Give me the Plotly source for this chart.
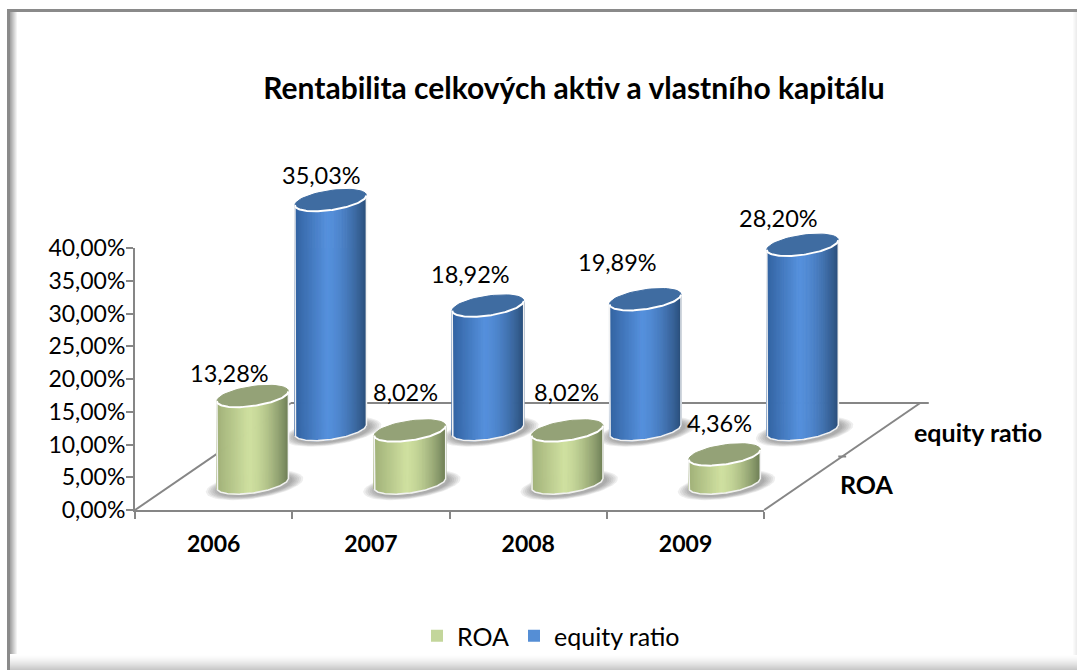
import math
import plotly.graph_objects as go

years = ["2006", "2007", "2008", "2009"]
roa = [13.28, 8.02, 8.02, 4.36]
equity_ratio = [35.03, 18.92, 19.89, 28.20]
title_text = "Rentabilita celkových aktiv a vlastního kapitálu"

W, H = 1077, 670
PX_X = 157.3          # px per category
PX_Y = 6.55           # px per percent
X0_PX, Y0_PX = 135, 510
DEPTH_X = 156 / PX_X  # floor depth vector, in data units
DEPTH_Y = 107 / PX_Y
RAD_X = 32 / PX_X     # cylinder radius along category axis
RAD_D = 16 / 156      # cylinder radius along depth axis
FONT = "Lato"
AX = "#868686"
INK = "#000000"


def lerp(a, b, s):
    return tuple(a[i] + (b[i] - a[i]) * s for i in range(3))


def shade(stops, s):
    c = lerp(stops[0], stops[1], s / 0.45) if s < 0.45 else lerp(stops[1], stops[2], ((s - 0.45) / 0.55) ** 1.6)
    return "rgb(%d,%d,%d)" % tuple(round(v) for v in c)


def pt(cx, cy, t, k=1.0):
    return (cx + k * (RAD_X * math.cos(t) + RAD_D * DEPTH_X * math.sin(t)),
            cy + k * RAD_D * DEPTH_Y * math.sin(t))


T0 = math.atan2(RAD_D * DEPTH_X, RAD_X)
series = [
    dict(name="equity ratio", vals=equity_ratio, depth=0.75, swatch="#558ED5",
         stops=[(50, 98, 160), (85, 144, 220), (44, 80, 124)], top="#3F6CA1",
         lab=[(-9, 25), (-17, 32), (-28, 37), (-24, 27)], rank=2),
    dict(name="ROA", vals=roa, depth=0.25, swatch="#C3D69B",
         stops=[(160, 176, 120), (207, 224, 160), (112, 128, 88)], top="#94A277",
         lab=[(-23, 23), (-4, 39), (-1, 39), (-5, 32)], rank=1),
]

fig = go.Figure()

# real bars on the visible axes: they carry the legend and sit inside the cylinder bodies
for s in series:
    fig.add_trace(go.Bar(
        x=[i + 0.5 + s["depth"] * DEPTH_X for i in range(len(years))], y=s["vals"],
        base=[s["depth"] * DEPTH_Y] * len(years), width=0.3, name=s["name"],
        marker=dict(color=s["swatch"], line_width=0), legendrank=s["rank"],
        hoverinfo="skip", cliponaxis=False))


def scatter(**kw):
    fig.add_trace(go.Scatter(mode="lines", showlegend=False, hoverinfo="skip", xaxis="x2", yaxis="y2", **kw))


def line(xs, ys, color=AX, width=2):
    scatter(x=xs, y=ys, line=dict(color=color, width=width))


# floor
n = len(years)
line([0, DEPTH_X], [0, DEPTH_Y])
line([DEPTH_X, n + DEPTH_X * 1.055], [DEPTH_Y, DEPTH_Y])
line([n, n + DEPTH_X], [0, DEPTH_Y])
line([n + 0.5 * DEPTH_X - 0.025, n + 0.5 * DEPTH_X + 0.025], [0.5 * DEPTH_Y] * 2)

# cylinders, back row first
ARC = [T0 + math.pi + math.pi * j / 70 for j in range(71)]
RING = [2 * math.pi * j / 60 for j in range(61)]
for s in series:
    for i, v in enumerate(s["vals"]):
        cx = i + 0.5 + s["depth"] * DEPTH_X
        base = s["depth"] * DEPTH_Y
        top = base + v
        # soft floor shadow
        for k in (1.36, 1.3, 1.24, 1.18, 1.12, 1.06):
            pts = [pt(cx + 2 / PX_X, base - 2 / PX_Y, t, k) for t in RING]
            scatter(x=[p[0] for p in pts], y=[p[1] for p in pts], fill="toself",
                    fillcolor="rgba(70,70,70,0.09)", line_width=0)
        # body: vertical strips following the front arc
        lo = pt(cx, base, ARC[0])[0]
        hi = pt(cx, base, ARC[-1])[0]
        for a, b in zip(ARC[:-1], ARC[1:]):
            pa, pb = pt(cx, base, a), pt(cx, base, b)
            col = shade(s["stops"], ((pa[0] + pb[0]) / 2 - lo) / (hi - lo))
            scatter(x=[pa[0], pb[0], pb[0], pa[0], pa[0]],
                    y=[pa[1], pb[1], pb[1] + v, pa[1] + v, pa[1]],
                    fill="toself", fillcolor=col, line=dict(color=col, width=1))
        # pale outline of sides + bottom
        low = [pt(cx, base, t) for t in ARC]
        xs = [low[0][0]] + [p[0] for p in low] + [low[-1][0]]
        ys = [low[0][1] + v] + [p[1] for p in low] + [low[-1][1] + v]
        line(xs, ys, "#F2F2F2", 1.6)
        # top cap
        cap = [pt(cx, top, t) for t in RING]
        scatter(x=[p[0] for p in cap], y=[p[1] for p in cap], fill="toself", fillcolor=s["top"],
                line=dict(color=s["top"], width=1))
        edge = [pt(cx, top, t) for t in ARC]
        line([p[0] for p in edge], [p[1] for p in edge], "#FFFFFF", 2)

annotations = []
for s in series:
    for i, v in enumerate(s["vals"]):
        annotations.append(dict(
            xref="x2", yref="y2", x=i + 0.5 + s["depth"] * DEPTH_X, y=s["depth"] * DEPTH_Y + v,
            text=("%.2f%%" % v).replace(".", ","), showarrow=False, xanchor="center", yanchor="middle",
            xshift=s["lab"][i][0], yshift=s["lab"][i][1], font=dict(family=FONT, size=23.5, color=INK)))
    annotations.append(dict(
        xref="x2", yref="y2", x=n + s["depth"] * DEPTH_X, y=s["depth"] * DEPTH_Y,
        text="<b>%s</b>" % s["name"], showarrow=False,
        xanchor="center", yanchor="middle", xshift=(97 if s["depth"] > 0.5 else 63),
        yshift=(-2 if s["depth"] > 0.5 else -1), font=dict(family=FONT, size=25, color=INK)))

# picture frame
shapes = []


def px_rect(x0, y0, x1, y1, color):
    shapes.append(dict(type="rect", xref="paper", yref="paper", x0=x0 / W, x1=x1 / W,
                       y0=1 - y1 / H, y1=1 - y0 / H, fillcolor=color, line_width=0, layer="below"))


for j in range(8):
    g = 165 + 90 * j / 7
    px_rect(10 + j, 12, 11 + j, 655, "rgb(%d,%d,%d)" % (g, g, g))
for j in range(16):
    g = 255 - 55 * (j / 15) ** 1.5
    px_rect(8, 654 + j, W, 655 + j, "rgb(%d,%d,%d)" % (g, g, g))
for j in range(5):
    g = 255 - 18 * j / 4
    px_rect(1072 + j, 10, 1073 + j, 655, "rgb(%d,%d,%d)" % (g, g, g))
px_rect(7, 9, 10, 670, "#8A8A8A")
px_rect(7, 9, 1077, 12, "#8A8A8A")

fig.update_layout(
    width=W, height=H, margin=dict(l=0, r=0, t=0, b=0, autoexpand=False), autosize=False,
    paper_bgcolor="white", plot_bgcolor="rgba(0,0,0,0)", separators=", ",
    font=dict(family=FONT, color=INK), barmode="overlay", shapes=shapes, annotations=annotations,
    title=dict(text="<b>%s</b>" % title_text, x=574 / W, y=1 - 88 / H, xanchor="center", yanchor="middle",
               font=dict(family=FONT, size=30, color=INK)),
    xaxis=dict(domain=[X0_PX / W, (X0_PX + n * PX_X) / W], range=[0, n], showgrid=False, zeroline=False,
               showline=True, linecolor=AX, linewidth=2, tickmode="array", tickvals=[i + 0.5 for i in range(n)],
               ticktext=["<b>%s</b>" % y for y in years], ticks="", ticklabelstandoff=12,
               tickfont=dict(family=FONT, size=23, color=INK),
               minor=dict(tickmode="array", tickvals=list(range(n + 1)), ticks="outside", ticklen=7,
                          tickcolor=AX, tickwidth=2, showgrid=False)),
    yaxis=dict(domain=[1 - Y0_PX / H, 1 - (Y0_PX - 40 * PX_Y) / H], range=[0, 40], dtick=5, showgrid=False,
               zeroline=False, showline=True, linecolor=AX, linewidth=2, ticks="outside", ticklen=7,
               tickcolor=AX, tickwidth=2, tickformat=".2f", ticksuffix="%", ticklabelstandoff=-4,
               tickfont=dict(family=FONT, size=23, color=INK)),
    # invisible full-page axes with the same scale: cylinders may extend past the visible axes
    xaxis2=dict(domain=[0, 1], range=[-X0_PX / PX_X, (W - X0_PX) / PX_X], visible=False, anchor="y2"),
    yaxis2=dict(domain=[0, 1], range=[(Y0_PX - H) / PX_Y, Y0_PX / PX_Y], visible=False, anchor="x2"),
    legend=dict(orientation="h", x=551 / W, y=1 - 636 / H, xanchor="center", yanchor="middle",
                font=dict(family=FONT, size=25, color=INK), bgcolor="rgba(0,0,0,0)", traceorder="normal"),
    showlegend=True,
)
fig.write_html("out.html", config=dict(displayModeBar=False),
               post_script="document.body.style.margin='0';document.body.style.overflow='hidden';")
